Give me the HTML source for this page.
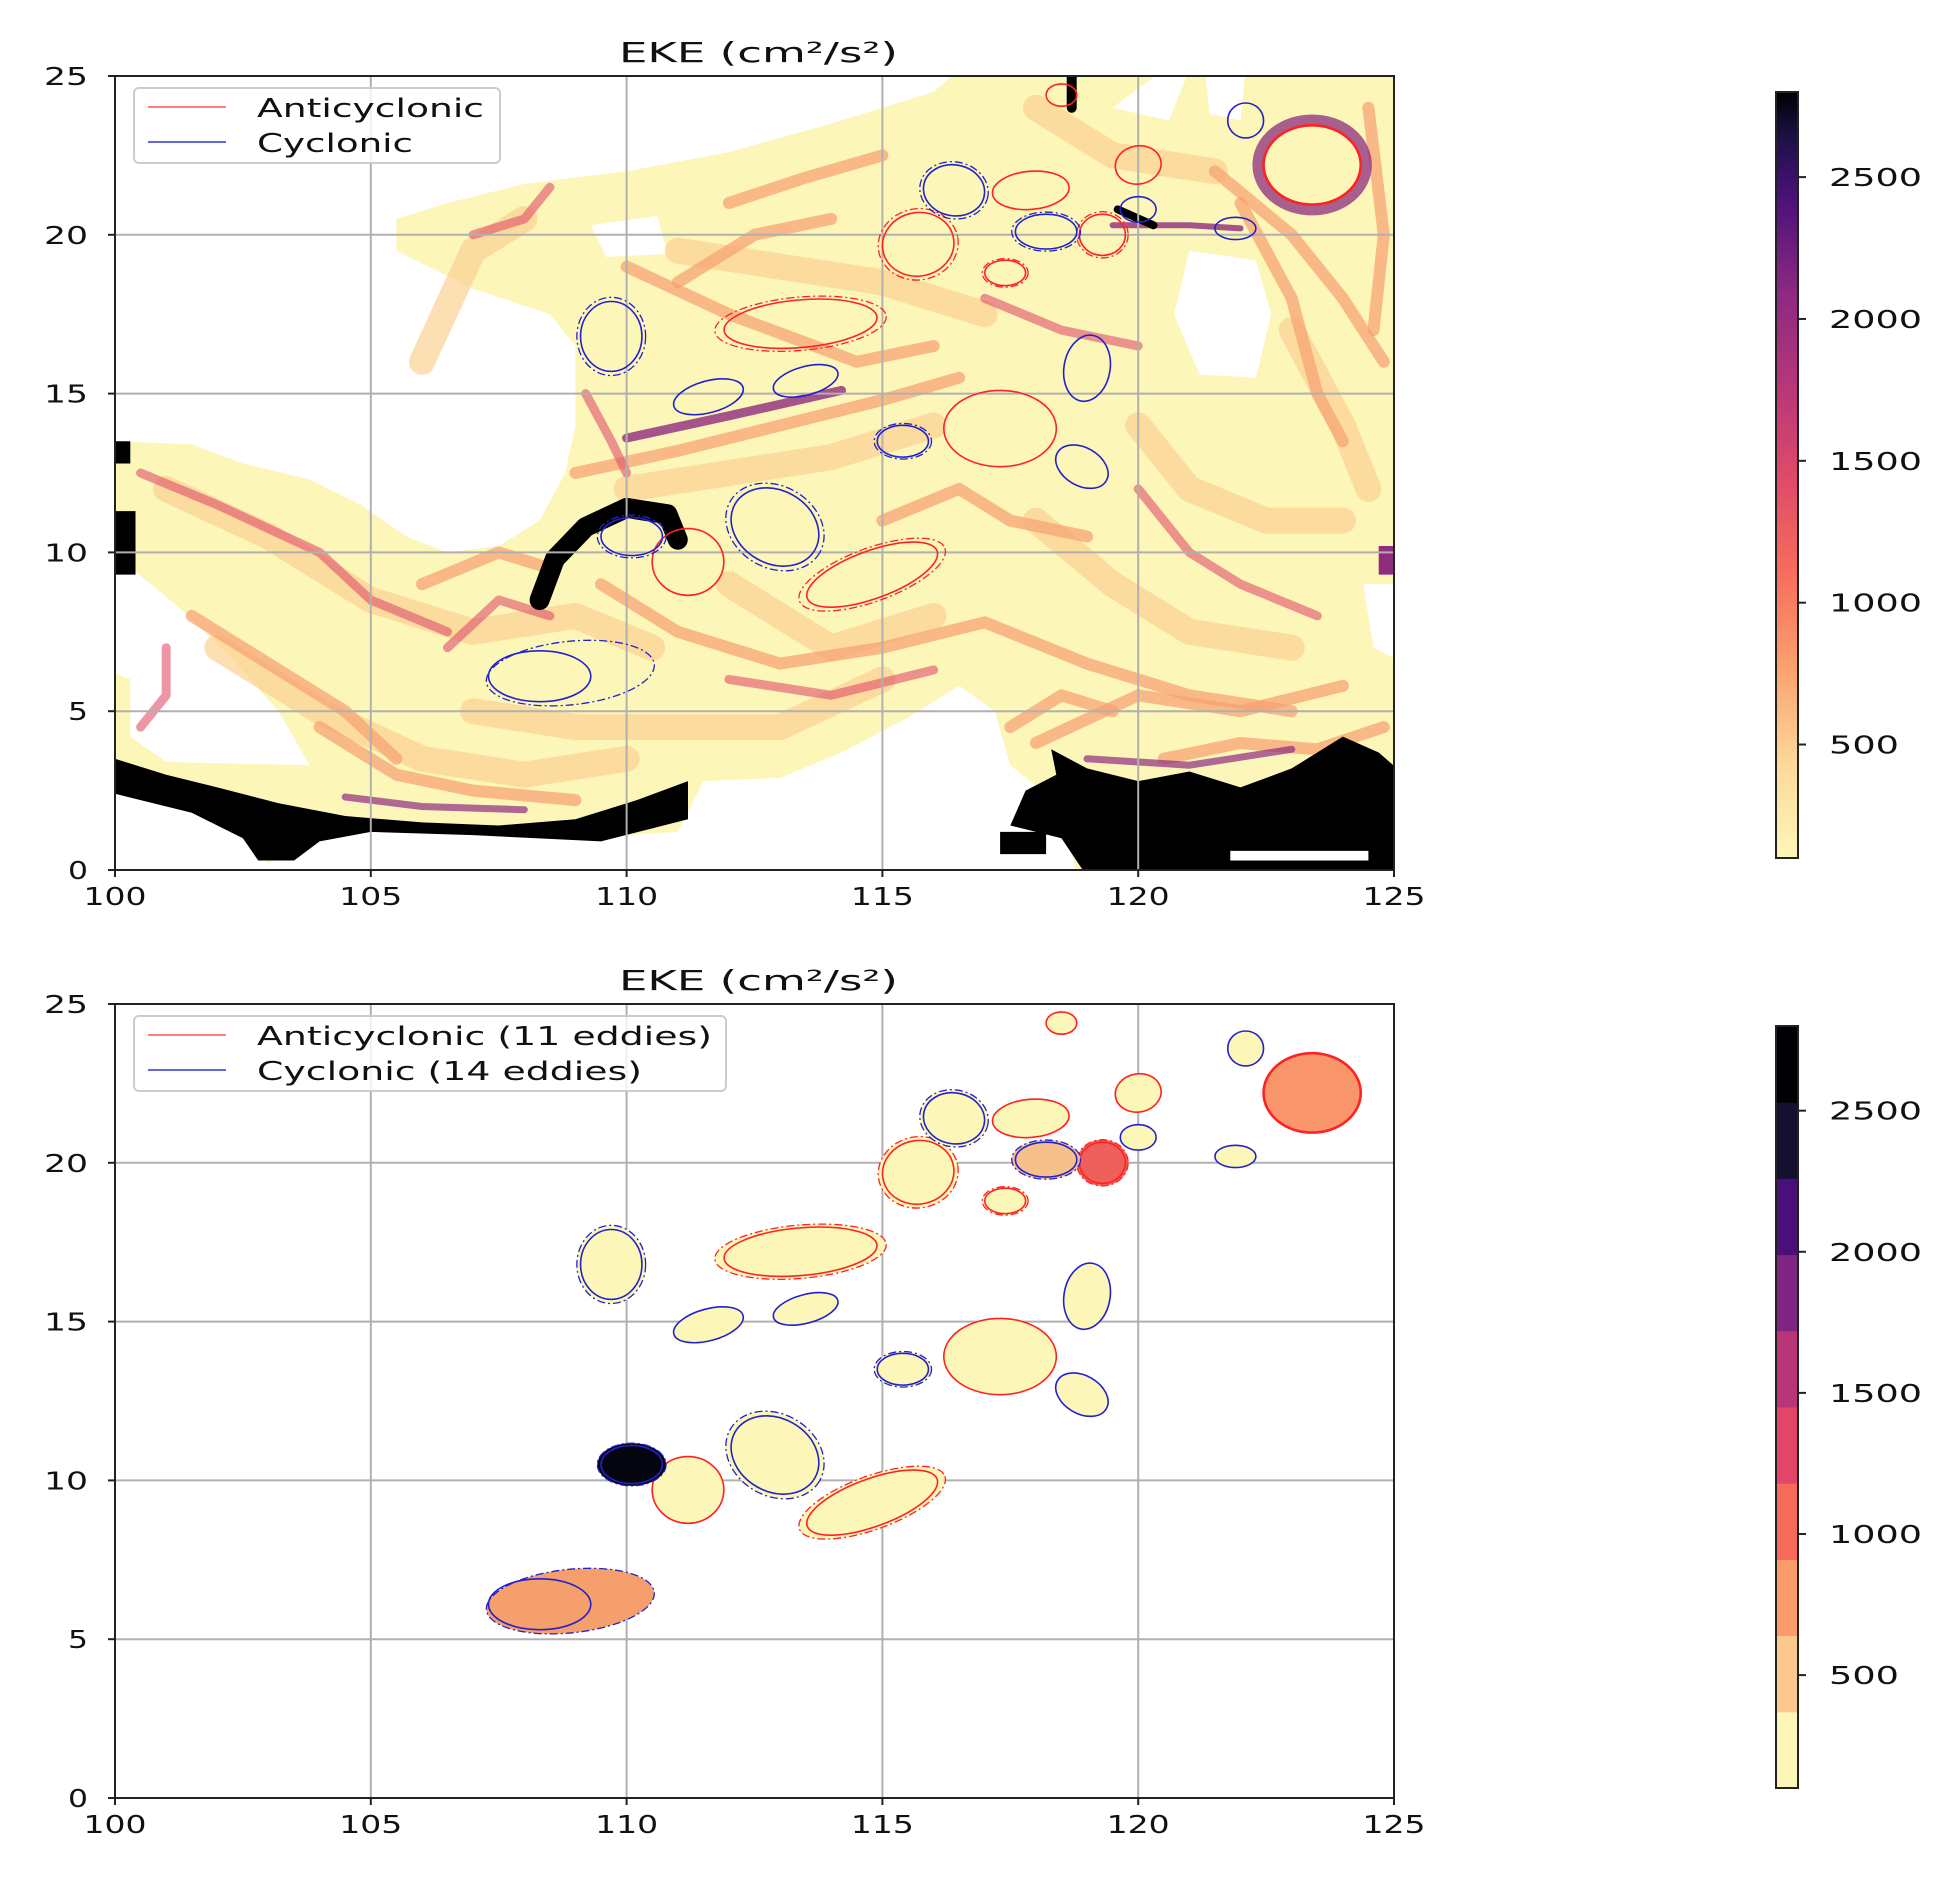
<!DOCTYPE html>
<html><head><meta charset="utf-8"><style>
html,body{margin:0;padding:0;background:#fff;}
svg{display:block}
text{font-family:"DejaVu Sans","Liberation Sans",sans-serif;fill:#111}
</style></head><body>
<svg id="s" width="1959" height="1885" viewBox="0 0 1959 1885" xmlns="http://www.w3.org/2000/svg">
<defs>
<linearGradient id="cm" x1="0" y1="1" x2="0" y2="0">
<stop offset="0" stop-color="#fcf6b8"/>
<stop offset="0.12" stop-color="#fdd99a"/>
<stop offset="0.25" stop-color="#fca06e"/>
<stop offset="0.38" stop-color="#f66a5c"/>
<stop offset="0.5" stop-color="#de4968"/>
<stop offset="0.62" stop-color="#b5367a"/>
<stop offset="0.74" stop-color="#8c2981"/>
<stop offset="0.86" stop-color="#4c117a"/>
<stop offset="0.94" stop-color="#1d1147"/>
<stop offset="1" stop-color="#000004"/>
</linearGradient>
</defs>
</svg>
<script>
const S=document.getElementById('s');
const L=115,R=1394,KX=(R-L)/25;
const KY=(870-76)/25;
function X(l){return L+(l-100)*KX;}
function mk(b){return l=>b-l*KY;}
let h='';
function pts(arr,Y){return arr.map(p=>X(p[0]).toFixed(1)+','+Y(p[1]).toFixed(1)).join(' ');}
function poly(arr,Y,fill,extra){h+=`<polygon points="${pts(arr,Y)}" fill="${fill}" ${extra||''}/>`;}
function line(arr,Y,col,w,op){h+=`<polyline points="${pts(arr,Y)}" fill="none" stroke="${col}" stroke-width="${w}" stroke-linejoin="round" stroke-linecap="round" opacity="${op||1}"/>`;}
const YEL='#fcf6b8';
const ED=[
['r',118.5,24.4,.3,.35,0,0,YEL],
['r',120.0,22.2,.45,.6,-10,0,YEL],
['r',123.4,22.2,.95,1.25,0,0,'#f8956a',1],
['r',117.9,21.4,.75,.6,-5,0,YEL],
['r',115.7,19.7,.7,1.0,-10,1,YEL],
['r',117.4,18.8,.4,.4,0,1,YEL],
['r',119.3,20.0,.45,.65,0,1,'#ef5f5c'],
['r',113.4,17.2,1.5,.75,-5,1,YEL],
['r',117.3,13.9,1.1,1.2,0,0,YEL],
['r',111.2,9.7,.7,1.05,0,0,YEL],
['r',114.8,9.3,1.35,.75,-20,1,YEL],
['b',122.1,23.6,.35,.55,0,0,YEL],
['b',116.4,21.4,.6,.8,10,1,YEL],
['b',118.2,20.1,.6,.55,0,1,'#f7c08a'],
['b',120.0,20.8,.35,.4,0,0,YEL],
['b',121.9,20.2,.4,.35,0,0,YEL],
['b',109.7,16.8,.6,1.1,0,1,YEL],
['b',111.6,14.9,.7,.5,-15,0,YEL],
['b',113.5,15.4,.65,.45,-15,0,YEL],
['b',119.0,15.8,.45,1.05,10,0,YEL],
['b',115.4,13.5,.5,.5,0,1,YEL],
['b',118.9,12.7,.55,.6,30,0,YEL],
['b',112.9,10.8,.9,1.15,30,1,YEL],
['b',110.1,10.5,.6,.6,0,1,'#050510'],
['b',108.3,6.1,1.0,.8,0,1,'#f59f6c'],
];
function eddies(Y,filled){
 for(const e of ED){
  const [t,lo,la,rx,ry,rot,d,f,thick]=e;
  const c=t=='r'?'#f22':'#22c';
  const cx=X(lo),cy=Y(la),RX=rx*KX,RY=ry*KY;
  if(filled){
   if(lo==108.3){
     h+=`<ellipse cx="${X(108.9)}" cy="${Y(6.2)}" rx="${1.65*KX}" ry="${1.0*KY}" fill="${f}" transform="rotate(-6 ${X(108.9)} ${Y(6.2)})"/>`;
   } else {
     const sc=d?1.12:1;
     h+=`<ellipse cx="${cx}" cy="${cy}" rx="${RX*sc}" ry="${RY*sc}" fill="${f}" transform="rotate(${rot} ${cx} ${cy})"/>`;
   }
  }
  h+=`<ellipse cx="${cx}" cy="${cy}" rx="${RX}" ry="${RY}" fill="none" stroke="${c}" stroke-width="${thick?2.6:1.6}" transform="rotate(${rot} ${cx} ${cy})"/>`;
  if(d){
   if(lo==108.3) h+=`<ellipse cx="${X(108.9)}" cy="${Y(6.2)}" rx="${1.65*KX}" ry="${1.0*KY}" fill="none" stroke="${c}" stroke-width="1.3" stroke-dasharray="8 3 2 3" transform="rotate(-6 ${X(108.9)} ${Y(6.2)})"/>`;
   else h+=`<ellipse cx="${cx}" cy="${cy}" rx="${RX*1.12}" ry="${RY*1.12}" fill="none" stroke="${c}" stroke-width="1.3" stroke-dasharray="8 3 2 3" transform="rotate(${rot} ${cx} ${cy})"/>`;
  }
 }
}
function grid(Y,top,bot){
 for(let l=105;l<125;l+=5) h+=`<line x1="${X(l)}" y1="${top}" x2="${X(l)}" y2="${bot}" stroke="#b0b0b0" stroke-width="2"/>`;
 for(let a=5;a<25;a+=5) h+=`<line x1="${L}" y1="${Y(a)}" x2="${R}" y2="${Y(a)}" stroke="#b0b0b0" stroke-width="2"/>`;
}
function axes(Y,top,bot){
 h+=`<rect x="${L}" y="${top}" width="${R-L}" height="${bot-top}" fill="none" stroke="#222" stroke-width="2"/>`;
 for(let l=100;l<=125;l+=5){
  h+=`<line x1="${X(l)}" y1="${bot}" x2="${X(l)}" y2="${bot+7}" stroke="#222" stroke-width="2"/>`;
  h+=`<text x="${X(l)}" y="${bot+35}" font-size="25" text-anchor="middle" textLength="63" lengthAdjust="spacingAndGlyphs">${l}</text>`;
 }
 for(let a=0;a<=25;a+=5){
  h+=`<line x1="${L-7}" y1="${Y(a)}" x2="${L}" y2="${Y(a)}" stroke="#222" stroke-width="2"/>`;
  const w=a<10?20:44;
  h+=`<text x="${88-w}" y="${Y(a)+9}" font-size="25" textLength="${w}" lengthAdjust="spacingAndGlyphs">${a}</text>`;
 }
 h+=`<text x="619" y="${top-14}" font-size="28" textLength="279" lengthAdjust="spacingAndGlyphs">EKE (cm²/s²)</text>`;
}
function legend(top,w,a,b,aw,bw){
 h+=`<rect x="134" y="${top}" width="${w}" height="75" rx="5" fill="#fff" fill-opacity="0.8" stroke="#ccc" stroke-width="2"/>`;
 h+=`<line x1="148" y1="${top+19}" x2="226" y2="${top+19}" stroke="#f55" stroke-width="1.6"/>`;
 h+=`<line x1="148" y1="${top+54}" x2="226" y2="${top+54}" stroke="#33c" stroke-width="1.6"/>`;
 h+=`<text x="257" y="${top+29}" font-size="26" textLength="${aw}" lengthAdjust="spacingAndGlyphs">${a}</text>`;
 h+=`<text x="257" y="${top+64}" font-size="26" textLength="${bw}" lengthAdjust="spacingAndGlyphs">${b}</text>`;
}
function cbar(top,bot,discrete){
 const x=1776,w=22;
 if(discrete){
  const cols=['#fcf6b8','#fdc88e','#fb9b6a','#f66a5c','#e3456a','#b9357a','#7f2482','#4a1079','#15102f','#000004'];
  const n=cols.length,hh=(bot-top)/n;
  for(let i=0;i<n;i++) h+=`<rect x="${x}" y="${bot-(i+1)*hh}" width="${w}" height="${hh+0.5}" fill="${cols[i]}"/>`;
 } else h+=`<rect x="${x}" y="${top}" width="${w}" height="${bot-top}" fill="url(#cm)"/>`;
 h+=`<rect x="${x}" y="${top}" width="${w}" height="${bot-top}" fill="none" stroke="#222" stroke-width="2"/>`;
 const k=(bot-top)/2700;
 for(const v of [500,1000,1500,2000,2500]){
  const y=bot-(v-100)*k;
  h+=`<line x1="${x+w}" y1="${y}" x2="${x+w+8}" y2="${y}" stroke="#222" stroke-width="2"/>`;
  const tw=v<1000?70:93;
  h+=`<text x="1829" y="${y+9}" font-size="25" textLength="${tw}" lengthAdjust="spacingAndGlyphs">${v}</text>`;
 }
}
// ---------- TOP ----------
const Y1=mk(870);
h+=`<clipPath id="c1"><rect x="${L}" y="76" width="${R-L}" height="794"/></clipPath><g clip-path="url(#c1)">`;
poly([[100,13.5],[101.5,13.4],[102.5,12.8],[103.8,12.3],[104.8,11.5],[105.7,10.5],[106.5,10],[107.5,10.2],[108.3,11],[108.8,12.5],[109,14],[109,16.5],[108.5,17.5],[107,18.3],[105.5,19.5],[105.5,20.5],[106.5,21],[108,21.6],[110,22],[112,22.6],[114,23.5],[116,24.5],[116.5,25.2],[125.2,25.2],[125.2,-0.2],[118.8,-0.2],[118.5,2],[117.5,3.3],[117.2,5],[116.5,5.8],[115.5,4.8],[114.2,3.7],[113,2.9],[111.5,2.8],[111,1.2],[109,1],[107,1.3],[105,1.5],[103.8,1.2],[103,0.2],[102.5,1.2],[101.5,2.2],[100,2.8],[99.8,13.5]],Y1,YEL);
poly([[100,9.5],[100.4,9.4],[101.3,8.2],[102.2,6.8],[103.2,5],[103.8,3.3],[101,3.4],[100.3,4.2],[100.3,6],[100,6.2]],Y1,'#fff');
poly([[121,19.5],[122.3,19.2],[122.6,17.5],[122.3,15.5],[121.2,15.6],[120.7,17.5]],Y1,'#fff');
poly([[121.3,25.2],[122.1,25.2],[122,23.6],[121.4,23.8]],Y1,'#fff');
poly([[124.4,9],[125.2,9],[125.2,6.5],[124.6,7]],Y1,'#fff');
poly([[109.3,20.3],[110.6,20.6],[110.8,19.4],[109.6,19.3]],Y1,'#fff');
poly([[119.5,24],[120.5,25.2],[121,25.2],[120.6,23.6]],Y1,'#fff');
const P='#f7a070',M='#e0506a',V='#8e2c80',Lo='#fbd193';
// broad light-orange haze
const haze=[
[[101,12],[103,10.5],[105,8.5],[107,7.5],[109,8],[110.5,7]],
[[102,7],[104,5],[106,3.5],[108,3],[110,3.5]],
[[107,5],[109,4.5],[111,4.5],[113,4.5],[115,6]],
[[110,12],[112,12.5],[114,13],[116,14]],
[[111,19.5],[113,19],[115,18.5],[117,17.5]],
[[118,11],[119.5,9],[121,7.5],[123,7]],
[[120,14],[121,12],[122.5,11],[124,11]],
[[112,9],[113,8],[114,7],[116,8]],
[[123,17],[124,14],[124.5,12]],
[[118,24],[119.5,22.5],[121.5,22]],
[[106,16],[107,19.5],[108,20.5]]
];
haze.forEach(s=>line(s,Y1,Lo,26,0.7));
const st=[
[[100.5,12.5],[102,11.5],[104,10],[105,8.5],[106.5,7.5]],
[[101.5,8],[103,6.5],[104.5,5],[105.5,3.5]],
[[104,4.5],[105.5,3],[107,2.5],[109,2.2]],
[[106.5,7],[107.5,8.5],[108.5,8]],
[[109,12.5],[111,13.2],[113,14],[115,14.8],[116.5,15.5]],
[[109.5,9],[111,7.5],[113,6.5],[115,7],[117,7.8],[119,6.5],[121,5.5],[123,5]],
[[112,6],[114,5.5],[116,6.3]],
[[110,19],[112,17.5],[114.5,16],[116,16.5]],
[[111,18.5],[112.5,20],[114,20.5]],
[[117,18],[118.5,17],[120,16.5]],
[[121.5,22],[123,20],[124,18],[124.8,16]],
[[122,21],[123,18],[123.5,15],[124,13.5]],
[[120,12],[121,10],[122,9],[123.5,8]],
[[115,11],[116.5,12],[117.5,11],[119,10.5]],
[[106,9],[107.5,10],[108.5,9.5]],
[[109.2,15],[109.7,13.5],[110,12.5]],
[[118,4],[120,5.5],[122,5],[124,5.8]],
[[112,21],[113.5,21.8],[115,22.5]],
[[107,20],[108,20.5],[108.5,21.5]],
[[117.5,4.5],[118.5,5.5],[119.5,5]],
[[120.5,3.5],[122,4],[123.5,3.8],[124.8,4.5]],
[[100.5,4.5],[101,5.5],[101,7]],
[[124.5,24],[124.8,20],[124.6,17]]
];
st.forEach((s,i)=>line(s,Y1,i%3==0?M:P,i%3==0?9:12,i%3==0?0.6:0.7));
line([[110,13.6],[112,14.3],[114.2,15.1]],Y1,V,9,0.8);
line([[119.5,20.3],[121,20.3],[122,20.2]],Y1,V,6,0.8);
line([[104.5,2.3],[106,2],[108,1.9]],Y1,V,7,0.7);
line([[119,3.5],[121,3.3],[123,3.8]],Y1,V,7,0.7);
h+=`<ellipse cx="${X(123.4)}" cy="${Y1(22.2)}" rx="${1.05*KX}" ry="${1.4*KY}" fill="none" stroke="${V}" stroke-width="12" opacity="0.75"/>`;
line([[108.3,8.5],[108.6,9.8],[109.2,10.8],[110,11.4],[110.8,11.2],[111,10.4]],Y1,'#000',20,1);
line([[120.3,20.3],[119.6,20.8]],Y1,'#000',8,1);
line([[118.7,25],[118.7,24]],Y1,'#000',10,1);
poly([[100,3.5],[101,3],[102,2.6],[103.2,2.1],[104.5,1.7],[106,1.5],[107.5,1.4],[109,1.6],[110.2,2.2],[111.2,2.8],[111.2,1.6],[109.5,0.9],[107,1.1],[105,1.2],[104,0.9],[103.5,0.3],[102.8,0.3],[102.5,1],[101.5,1.8],[100.5,2.2],[100,2.4]],Y1,'#000');
poly([[118.3,3.8],[119,3.2],[120,2.8],[121,3.1],[122,2.6],[123,3.2],[124,4.2],[124.7,3.7],[125.2,3],[125.2,-0.2],[119,-0.2],[118.5,1],[117.5,1.4],[117.8,2.5],[118.4,3]],Y1,'#000');
poly([[117.3,1.2],[118.2,1.2],[118.2,0.5],[117.3,0.5]],Y1,'#000');
poly([[121.8,0.6],[124.5,0.6],[124.5,0.3],[121.8,0.3]],Y1,'#fff');
poly([[100,11.3],[100.4,11.3],[100.4,9.3],[100,9.3]],Y1,'#000');
poly([[100,13.5],[100.3,13.5],[100.3,12.8],[100,12.8]],Y1,'#000');
poly([[124.7,10.2],[125,10.2],[125,9.3],[124.7,9.3]],Y1,V);
h+=`</g>`;
grid(Y1,76,870);
eddies(Y1,false);
axes(Y1,76,870);
legend(88,366,'Anticyclonic','Cyclonic',227,156);
cbar(92,858,false);
// ---------- BOTTOM ----------
const Y2=mk(1798);
grid(Y2,1004,1798);
eddies(Y2,true);
axes(Y2,1004,1798);
legend(1016,592,'Anticyclonic (11 eddies)','Cyclonic (14 eddies)',455,385);
cbar(1026,1788,true);
S.insertAdjacentHTML('beforeend',h);
</script>
</body></html>
